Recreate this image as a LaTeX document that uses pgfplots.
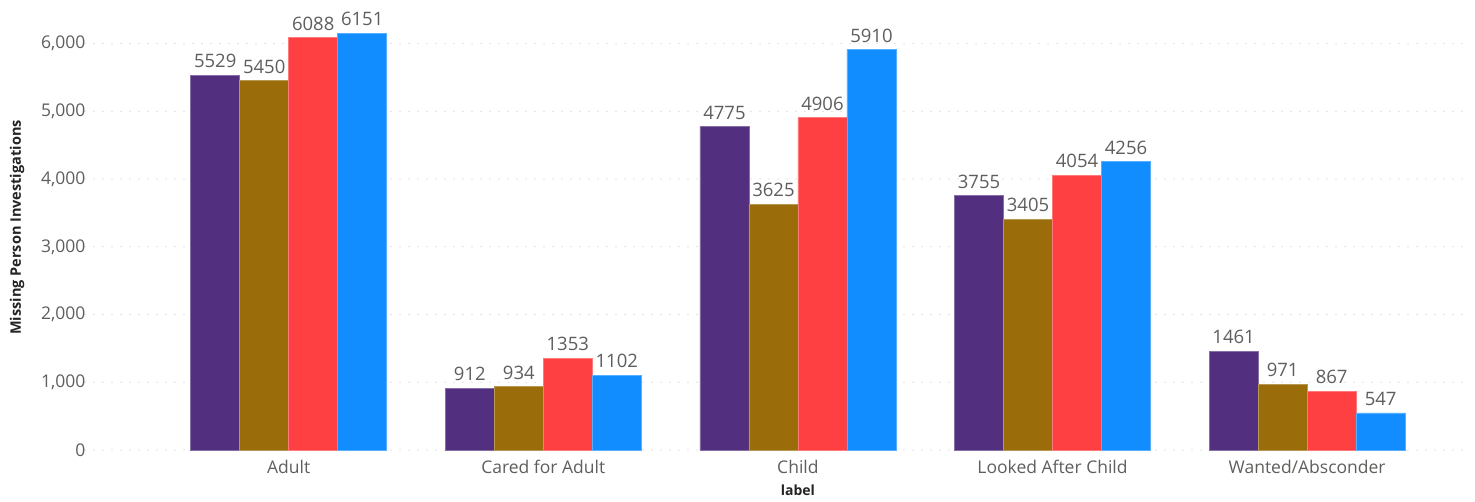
\documentclass[border=0pt]{standalone}
\usepackage{pgfplots}
\pgfplotsset{compat=1.18}
\usepackage{fontspec}
\setmainfont{Open Sans}
\definecolor{cA}{HTML}{53307F}
\definecolor{cB}{HTML}{9A6D0A}
\definecolor{cC}{HTML}{FF4043}
\definecolor{cD}{HTML}{118DFF}
\definecolor{tgrey}{HTML}{605E5C}
\definecolor{tdark}{HTML}{252423}
\begin{document}
\begin{tikzpicture}
\useasboundingbox (0,0) rectangle (1475pt,502pt);
\begin{axis}[
  at={(85pt,52pt)}, anchor=south west,
  scale only axis, width=1380pt, height=445pt,
  xmin=-0.8, xmax=4.62, ymin=0, ymax=6570,
  ybar=0pt, bar width=49pt,
  axis line style={draw=none}, tick style={draw=none},
  major tick length=0pt,
  ymajorgrids, grid style={draw=black!22, line width=1.2pt, dash pattern=on 0pt off 9pt, line cap=round},
  xtick={0,1,2,3,4},
  xticklabels={Adult, Cared for Adult, Child, Looked After Child, Wanted/Absconder},
  ytick={0,1000,2000,3000,4000,5000,6000},
  /pgf/number format/assume math mode=true,
  yticklabel style={/pgf/number format/1000 sep={,}, font=\fontsize{17.5}{17.5}\selectfont, text=tgrey, xshift=4pt},
  xticklabel style={font=\fontsize{17.5}{17.5}\selectfont, text=tgrey, yshift=-7pt},
  nodes near coords={\pgfmathprintnumber[1000 sep={}]{\pgfplotspointmeta}},
  nodes near coords style={font=\fontsize{18.5}{18.5}\selectfont, text=tgrey, inner sep=4pt, yshift=3pt},
  xlabel={label}, ylabel={Missing Person Investigations},
  every axis x label/.style={at={(axis cs:2,0)}, yshift=-40pt, anchor=center, font=\bfseries\fontsize{14}{14}\selectfont, text=tdark},
  every axis y label/.style={at={(axis description cs:0,0.5)}, xshift=-68pt, rotate=90, anchor=center, font=\bfseries\fontsize{14.5}{14.5}\selectfont, text=tdark},
  clip=false,
]
\addplot[fill=cA, draw=cA!70!white, line width=0.7pt] coordinates {(0,5529) (1,912) (2,4775) (3,3755) (4,1461)};
\addplot[fill=cB, draw=cB!70!white, line width=0.7pt] coordinates {(0,5450) (1,934) (2,3625) (3,3405) (4,971)};
\addplot[fill=cC, draw=cC!70!white, line width=0.7pt] coordinates {(0,6088) (1,1353) (2,4906) (3,4054) (4,867)};
\addplot[fill=cD, draw=cD!70!white, line width=0.7pt] coordinates {(0,6151) (1,1102) (2,5910) (3,4256) (4,547)};
\end{axis}
\end{tikzpicture}
\end{document}
